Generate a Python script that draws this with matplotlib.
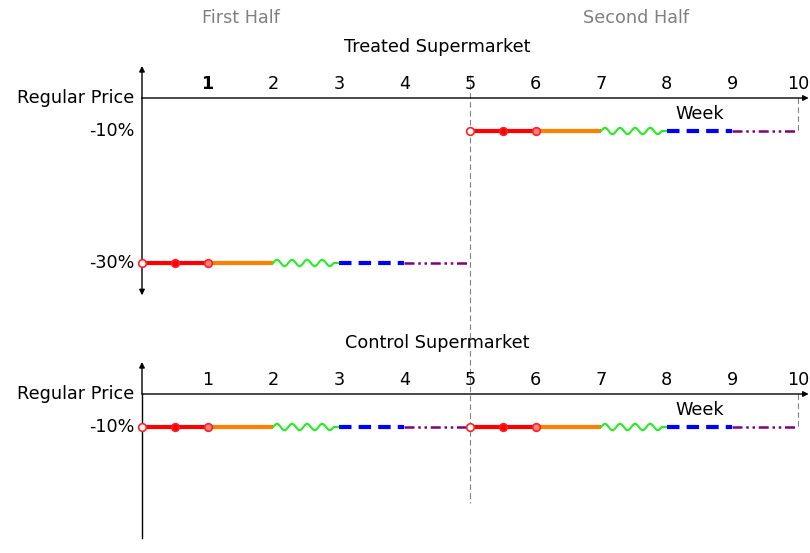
import numpy as np
import matplotlib
matplotlib.use('Agg')
import matplotlib.pyplot as plt
from matplotlib.transforms import IdentityTransform

plt.rcParams['font.family'] = ['DejaVu Sans']

# Data: week boundaries of each price segment and price level (% vs regular)
weeks = [0, 1, 2, 3, 4, 5, 6, 7, 8, 9, 10]
week_labels = ['1', '2', '3', '4', '5', '6', '7', '8', '9', '10']
seg_styles = ['red', 'orange', 'wave', 'blue', 'purple']
treated_first = -30
treated_second = -10
control_first = -10
control_second = -10
marker_weeks = [0, 0.5, 1]
level_labels_top = ['Regular Price', '-10%', '-30%']
level_values_top = [0, -10, -30]
level_labels_bot = ['Regular Price', '-10%']
level_values_bot = [0, -10]

fig = plt.figure(figsize=(8.1, 5.53), dpi=100)
W, H = 810, 553
px_per_week = 65.6
px_per_pct = 3.3
x0_px = 142
FS = 12.7


# the price axis is not to scale: gaps below -10% are drawn twice as tall
def fwd(y):
    y = np.asarray(y, dtype=float)
    return np.where(y >= -10, y, -10 + 2 * (y + 10))


def inv(z):
    z = np.asarray(z, dtype=float)
    return np.where(z >= -10, z, -10 + (z + 10) / 2)


def make_axes(top_px, bottom_px, base_px):
    ax = fig.add_axes([0, 1 - bottom_px / H, 1, (bottom_px - top_px) / H])
    ax.set_yscale('function', functions=(fwd, inv))
    ax.set_xlim(-x0_px / px_per_week, (W - x0_px) / px_per_week)
    ax.set_ylim(float(inv(-(bottom_px - base_px) / px_per_pct)), (base_px - top_px) / px_per_pct)
    ax.axis('off')
    return ax


def draw_segment(ax, xa, xb, y, style):
    if style == 'red':
        ax.plot([xa, xb], [y, y], color='#ff0000', lw=3, solid_capstyle='butt', zorder=3)
        for i, m in enumerate(marker_weeks):
            fc = ['white', '#ff0000', '#ff8080'][i]
            ax.plot(xa + m, y, 'o', ms=5.5, mfc=fc, mec='#ff2020', mew=1.2, zorder=4)
    elif style == 'orange':
        ax.plot([xa, xb], [y, y], color='#ff8000', lw=3, solid_capstyle='butt', zorder=3)
    elif style == 'wave':
        # snake decoration, built in pixel space so the amplitude stays constant
        t = np.linspace(0, 0.92, 200)
        pts = ax.transData.transform(np.column_stack([xa + t, np.full_like(t, y)]))
        pts[:, 1] += 3.2 * np.sin(2 * np.pi * t / 0.23)
        end = ax.transData.transform([[xb, y]])
        pts = np.vstack([pts, end])
        ax.plot(pts[:, 0], pts[:, 1], color='#22ee22', lw=1.5, zorder=3,
                transform=IdentityTransform())
    elif style == 'blue':
        ax.plot([xa, xb], [y, y], color='#0000ff', lw=3, dashes=(3, 1.7),
                solid_capstyle='butt', zorder=3)
    elif style == 'purple':
        ax.plot([xa, xb], [y, y], color='#800080', lw=1.8,
                dashes=(4, 1.5, 1, 1.5, 1, 1.5), zorder=3)


def draw_panel(ax, first, second, title, ylabels, yvals, ytop, ybot, down_arrow, bold_one):
    arrow = dict(arrowstyle='-|>', color='black', lw=1, mutation_scale=8, shrinkA=0, shrinkB=0)
    # x axis
    ax.annotate('', xy=(ax.get_xlim()[1] - 0.02, 0), xytext=(0, 0), arrowprops=arrow)
    # y axis
    ax.annotate('', xy=(0, ytop), xytext=(0, 0), arrowprops=arrow)
    if down_arrow:
        ax.annotate('', xy=(0, ybot), xytext=(0, 0), arrowprops=arrow)
    else:
        ax.plot([0, 0], [0, ybot], color='black', lw=1)
    for w, lab in zip(weeks[1:], week_labels):
        ax.text(w, 4.2, lab, ha='center', va='center', fontsize=FS,
                fontweight='bold' if (bold_one and lab == '1') else 'normal', zorder=5)
    for lab, v in zip(ylabels, yvals):
        ax.text(-8 / px_per_week, v, lab, ha='right', va='center', fontsize=FS)
    ax.text(8.5, -4.9, 'Week', ha='center', va='center', fontsize=FS)
    ax.text(4.5, 15.5, title, ha='center', va='center', fontsize=FS)
    for i, st in enumerate(seg_styles):
        draw_segment(ax, weeks[i], weeks[i + 1], first, st)
        draw_segment(ax, weeks[i + 5], weeks[i + 6], second, st)
    ax.plot([10, 10], [0, second], color='gray', lw=0.8, dashes=(5, 3))


ax_top = make_axes(35, 300, 98)
ax_bot = make_axes(335, 553, 394)

draw_panel(ax_top, treated_first, treated_second, 'Treated Supermarket',
           level_labels_top, level_values_top, 9.7, float(inv(-59.8)), True, True)
draw_panel(ax_bot, control_first, control_second, 'Control Supermarket',
           level_labels_bot, level_values_bot, 9.7, float(inv(-43.6)), False, False)

# dashed separator between halves
ax_top.plot([5, 5], [(98 - 75) / px_per_pct, float(inv(-(503 - 98) / px_per_pct))],
            color='gray', lw=0.8, dashes=(5, 3), clip_on=False, zorder=2)

fig.text(241 / W, 1 - 18 / H, 'First Half', ha='center', va='center', fontsize=FS, color='gray')
fig.text(636 / W, 1 - 18 / H, 'Second Half', ha='center', va='center', fontsize=FS, color='gray')

fig.savefig('out.png', dpi=100)
